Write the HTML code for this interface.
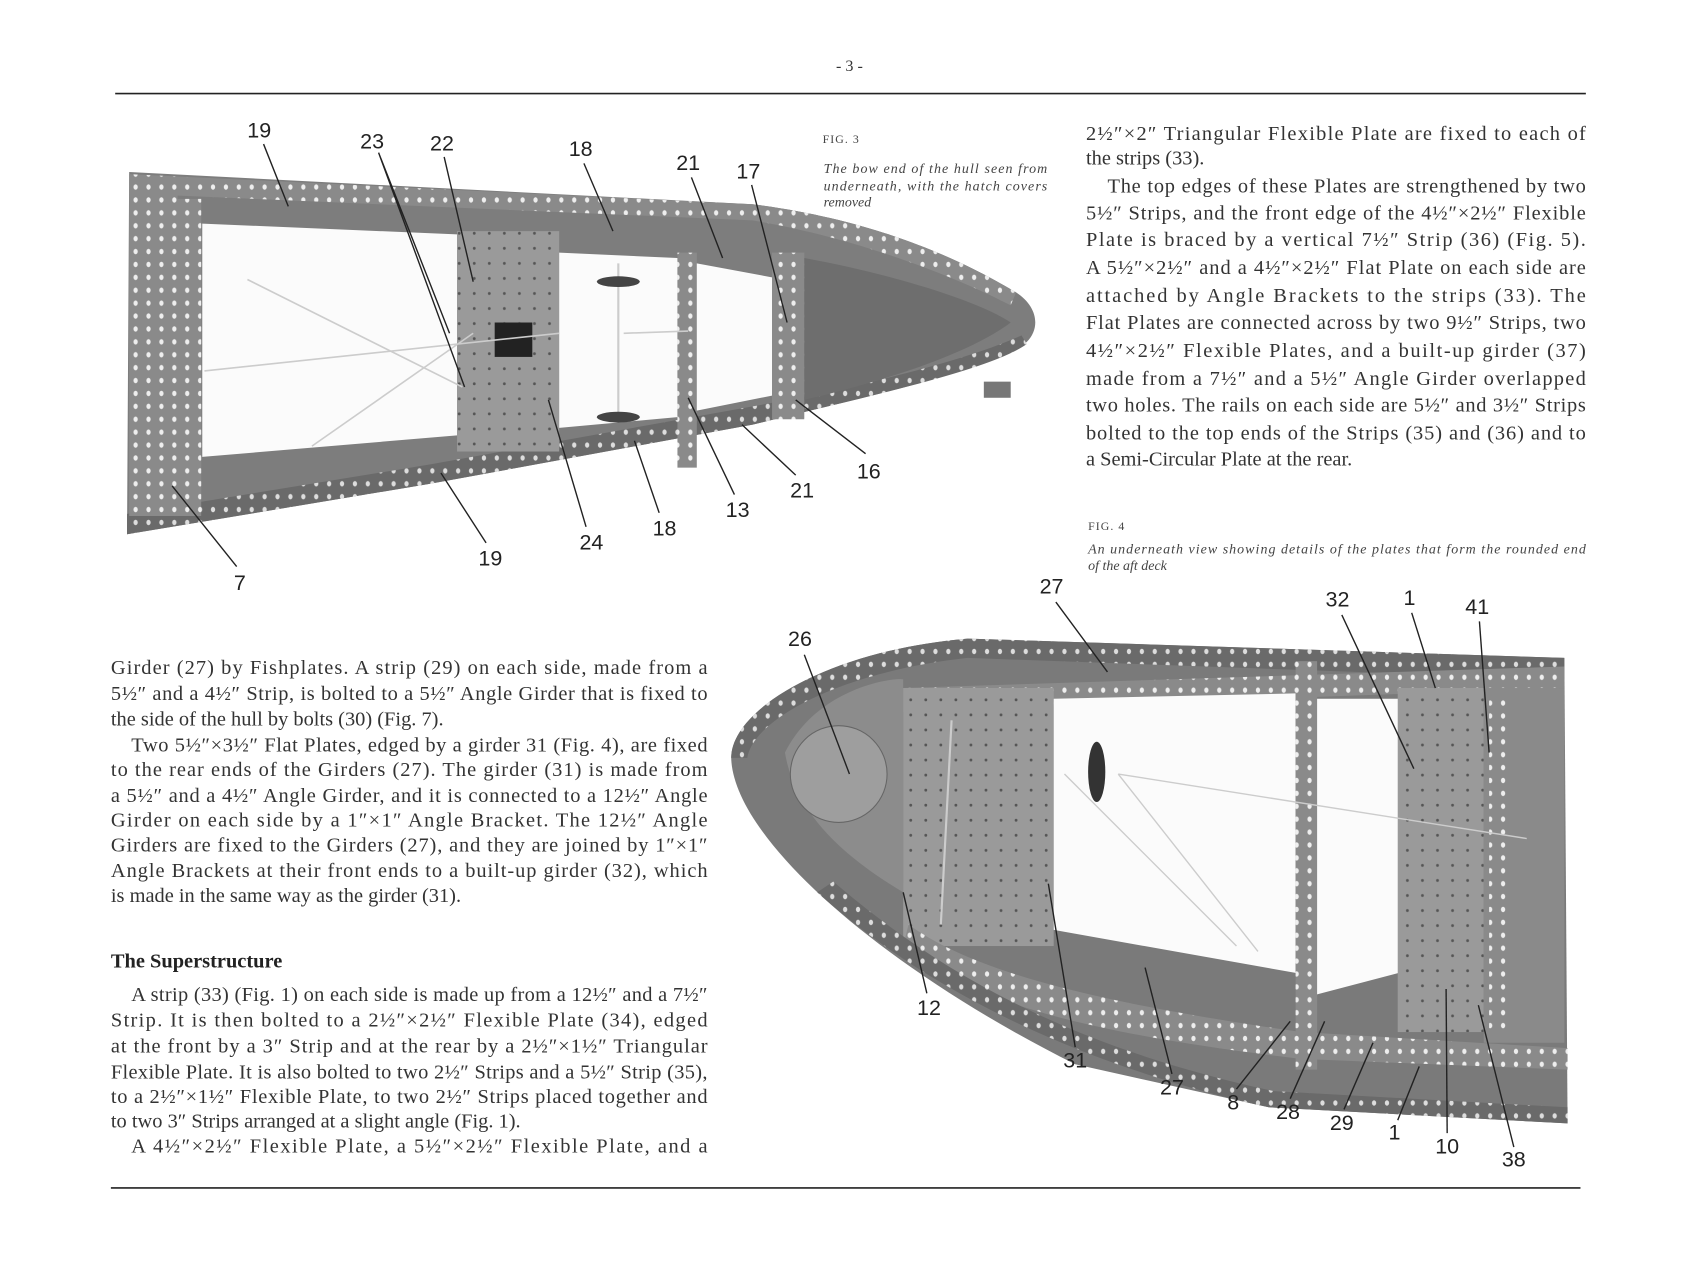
<!DOCTYPE html>
<html><head><meta charset="utf-8"><style>
html,body{margin:0;padding:0;background:#fff;}
svg{display:block}
.t{font-family:"Liberation Serif",serif;font-size:19px;fill:#333;}
.c{font-family:"Liberation Serif",serif;font-size:13px;font-style:italic;fill:#444;}
.f{font-family:"Liberation Serif",serif;font-size:11px;fill:#444;letter-spacing:1px}
.n{font-family:"Liberation Sans",sans-serif;font-size:20px;fill:#222;}
.l{stroke:#222;stroke-width:1.3;fill:none}
</style></head><body>
<svg width="1686" height="1275" viewBox="0 0 1568 1186" xmlns="http://www.w3.org/2000/svg">
<defs>
<pattern id="holes" width="12" height="12" patternUnits="userSpaceOnUse"><rect width="12" height="12" fill="#8a8a8a"/><ellipse cx="6" cy="6" rx="2" ry="2.5" fill="#eee"/></pattern>
<pattern id="holesD" width="12" height="12" patternUnits="userSpaceOnUse"><rect width="12" height="12" fill="#6a6a6a"/><ellipse cx="6" cy="6" rx="2" ry="2.5" fill="#ddd"/></pattern>
<pattern id="plate" width="14" height="14" patternUnits="userSpaceOnUse"><rect width="14" height="14" fill="#9a9a9a"/><circle cx="7" cy="7" r="1.3" fill="#555"/></pattern>
</defs>
<rect width="1568" height="1186" fill="#fff"/>
<text x="790" y="66" class="t" text-anchor="middle" style="font-size:15px">- 3 -</text>
<line x1="107" y1="87" x2="1475" y2="87" stroke="#222" stroke-width="1.5"/>
<line x1="103" y1="1105" x2="1470" y2="1105" stroke="#222" stroke-width="1.5"/>

<g>
<path d="M120,160 L700,190 C820,205 900,245 945,272 C965,285 968,305 955,318 C920,345 800,370 700,395 L400,450 L118,497 Z" fill="#7d7d7d"/>
<path d="M120,162 L700,190 C820,205 900,245 945,272 L940,284 C890,258 800,222 700,205 L120,180 Z" fill="url(#holes)"/>
<path d="M118,478 L400,432 L700,378 C800,360 900,335 950,312 L955,320 C920,345 800,370 700,395 L400,450 L118,497 Z" fill="url(#holesD)"/>
<rect x="120" y="180" width="45" height="300" fill="url(#holes)"/>
<rect x="162" y="185" width="25" height="295" fill="url(#holes)"/>
<path d="M188,208 L425,218 L425,405 L188,425 Z" fill="#fbfbfb"/>
<rect x="425" y="215" width="95" height="205" fill="url(#plate)"/>
<rect x="460" y="300" width="35" height="32" fill="#222"/>
<path d="M520,235 L630,240 L630,388 L520,398 Z" fill="#fbfbfb"/>
<rect x="630" y="235" width="18" height="200" fill="url(#holes)"/>
<path d="M648,245 L718,258 L718,368 L648,382 Z" fill="#fbfbfb"/>
<rect x="718" y="235" width="30" height="155" fill="url(#holes)"/>
<path d="M748,240 C830,255 910,280 940,300 C900,330 820,355 748,372 Z" fill="#6e6e6e"/>
<path d="M190,345 L520,310 M580,310 L640,308 M230,260 L430,360 M290,415 L440,310" stroke="#ccc" stroke-width="1.5"/>
<line x1="575" y1="245" x2="575" y2="390" stroke="#ccc" stroke-width="2"/>
<ellipse cx="575" cy="262" rx="20" ry="5" fill="#444"/><ellipse cx="575" cy="388" rx="20" ry="5" fill="#444"/>
<rect x="915" y="355" width="25" height="15" fill="#777"/>
</g>

<g class="n">
<text x="241" y="128" text-anchor="middle">19</text>
<text x="346" y="138" text-anchor="middle">23</text>
<text x="411" y="140" text-anchor="middle">22</text>
<text x="540" y="145" text-anchor="middle">18</text>
<text x="640" y="158" text-anchor="middle">21</text>
<text x="696" y="166" text-anchor="middle">17</text>
<text x="808" y="445" text-anchor="middle">16</text>
<text x="746" y="463" text-anchor="middle">21</text>
<text x="686" y="481" text-anchor="middle">13</text>
<text x="618" y="498" text-anchor="middle">18</text>
<text x="550" y="511" text-anchor="middle">24</text>
<text x="456" y="526" text-anchor="middle">19</text>
<text x="223" y="549" text-anchor="middle">7</text>
</g>
<g class="l">
<path d="M245,134 L268,192"/><path d="M352,142 L418,310 M352,142 L432,360"/><path d="M413,146 L440,262"/>
<path d="M543,152 L570,215"/><path d="M643,165 L672,240"/><path d="M699,172 L732,300"/>
<path d="M805,422 L740,372"/><path d="M740,442 L690,395"/><path d="M683,460 L640,370"/>
<path d="M613,477 L590,410"/><path d="M545,490 L510,372"/><path d="M452,505 L410,440"/><path d="M220,527 L160,452"/>
</g>

<text x="765" y="133" class="f">FIG. 3</text>
<text x="766" y="161" class="c" textLength="208">The bow end of the hull seen from</text>
<text x="766" y="177" class="c" textLength="208">underneath, with the hatch covers</text>
<text x="766" y="192" class="c">removed</text>

<g class="t">
<text x="1010" y="130" textLength="465">2½″×2″ Triangular Flexible Plate are fixed to each of</text>
<text x="1010" y="153">the strips (33).</text>
<text x="1030" y="179" textLength="445">The top edges of these Plates are strengthened by two</text>
<text x="1010" y="204" textLength="465">5½″ Strips, and the front edge of the 4½″×2½″ Flexible</text>
<text x="1010" y="229" textLength="465">Plate is braced by a vertical 7½″ Strip (36) (Fig. 5).</text>
<text x="1010" y="255" textLength="465">A 5½″×2½″ and a 4½″×2½″ Flat Plate on each side are</text>
<text x="1010" y="281" textLength="465">attached by Angle Brackets to the strips (33). The</text>
<text x="1010" y="306" textLength="465">Flat Plates are connected across by two 9½″ Strips, two</text>
<text x="1010" y="332" textLength="465">4½″×2½″ Flexible Plates, and a built-up girder (37)</text>
<text x="1010" y="358" textLength="465">made from a 7½″ and a 5½″ Angle Girder overlapped</text>
<text x="1010" y="383" textLength="465">two holes. The rails on each side are 5½″ and 3½″ Strips</text>
<text x="1010" y="409" textLength="465">bolted to the top ends of the Strips (35) and (36) and to</text>
<text x="1010" y="433">a Semi-Circular Plate at the rear.</text>
</g>

<text x="1012" y="493" class="f">FIG. 4</text>
<text x="1012" y="515" class="c" textLength="463">An underneath view showing details of the plates that form the rounded end</text>
<text x="1012" y="530" class="c">of the aft deck</text>

<g>
<path d="M1455,612 L900,594 C770,605 680,660 680,705 C682,780 820,900 1000,990 L1180,1030 L1458,1045 Z" fill="#7a7a7a"/>
<path d="M1455,612 L900,594 C770,605 680,660 680,705 L695,705 C700,670 780,625 900,612 L1455,632 Z" fill="url(#holesD)"/>
<path d="M840,640 L1455,620 L1455,640 L840,662 Z" fill="url(#holes)"/>
<path d="M730,700 C760,640 830,630 840,632 L840,830 C790,800 740,760 730,700 Z" fill="#8c8c8c"/>
<circle cx="780" cy="720" r="45" fill="#9e9e9e" stroke="#666"/>
<rect x="840" y="640" width="140" height="240" fill="url(#plate)"/>
<path d="M980,650 L1205,645 L1205,905 L980,865 Z" fill="#fbfbfb"/>
<rect x="1205" y="615" width="20" height="380" fill="url(#holes)"/>
<path d="M1225,650 L1320,650 L1320,900 L1225,925 Z" fill="#fbfbfb"/>
<rect x="1300" y="640" width="80" height="320" fill="url(#plate)"/>
<rect x="1380" y="640" width="75" height="330" fill="#8a8a8a"/>
<rect x="1385" y="650" width="20" height="310" fill="url(#holes)"/>
<path d="M845,860 C900,900 1000,930 1210,960 L1458,975 L1458,995 L1210,985 C1000,960 900,930 840,880 Z" fill="url(#holes)"/>
<path d="M760,830 C860,920 1000,990 1180,1030 L1458,1045 L1458,1030 L1185,1015 C1000,975 880,910 775,820 Z" fill="url(#holesD)"/>
<line x1="885" y1="670" x2="875" y2="860" stroke="#ccc" stroke-width="2"/>
<path d="M1040,720 L1170,885 M1040,720 L1420,780 M990,720 L1150,880" stroke="#ccc" stroke-width="1.3"/>
<ellipse cx="1020" cy="718" rx="8" ry="28" fill="#333"/>
</g>

<g class="n">
<text x="978" y="552" text-anchor="middle">27</text>
<text x="744" y="601" text-anchor="middle">26</text>
<text x="1244" y="564" text-anchor="middle">32</text>
<text x="1311" y="563" text-anchor="middle">1</text>
<text x="1374" y="571" text-anchor="middle">41</text>
<text x="864" y="944" text-anchor="middle">12</text>
<text x="1000" y="993" text-anchor="middle">31</text>
<text x="1090" y="1018" text-anchor="middle">27</text>
<text x="1147" y="1032" text-anchor="middle">8</text>
<text x="1198" y="1041" text-anchor="middle">28</text>
<text x="1248" y="1051" text-anchor="middle">29</text>
<text x="1297" y="1060" text-anchor="middle">1</text>
<text x="1346" y="1073" text-anchor="middle">10</text>
<text x="1408" y="1085" text-anchor="middle">38</text>
</g>
<g class="l">
<path d="M982,560 L1030,625"/><path d="M748,609 L790,720"/><path d="M1248,572 L1315,715"/>
<path d="M1313,570 L1335,640"/><path d="M1376,578 L1385,700"/><path d="M862,924 L840,830"/>
<path d="M1000,974 L975,822"/><path d="M1090,999 L1065,900"/><path d="M1150,1013 L1200,950"/>
<path d="M1200,1022 L1232,950"/><path d="M1250,1032 L1277,970"/><path d="M1300,1042 L1320,992"/>
<path d="M1346,1054 L1345,920"/><path d="M1408,1067 L1375,935"/>
</g>

<g class="t">
<text x="103" y="627" textLength="555">Girder (27) by Fishplates. A strip (29) on each side, made from a</text>
<text x="103" y="651" textLength="555">5½″ and a 4½″ Strip, is bolted to a 5½″ Angle Girder that is fixed to</text>
<text x="103" y="675">the side of the hull by bolts (30) (Fig. 7).</text>
<text x="122" y="699" textLength="536">Two 5½″×3½″ Flat Plates, edged by a girder 31 (Fig. 4), are fixed</text>
<text x="103" y="722" textLength="555">to the rear ends of the Girders (27). The girder (31) is made from</text>
<text x="103" y="746" textLength="555">a 5½″ and a 4½″ Angle Girder, and it is connected to a 12½″ Angle</text>
<text x="103" y="769" textLength="555">Girder on each side by a 1″×1″ Angle Bracket. The 12½″ Angle</text>
<text x="103" y="792" textLength="555">Girders are fixed to the Girders (27), and they are joined by 1″×1″</text>
<text x="103" y="816" textLength="555">Angle Brackets at their front ends to a built-up girder (32), which</text>
<text x="103" y="839">is made in the same way as the girder (31).</text>
<text x="103" y="900" style="font-weight:bold;fill:#222;font-size:19px">The Superstructure</text>
<text x="122" y="931" textLength="536">A strip (33) (Fig. 1) on each side is made up from a 12½″ and a 7½″</text>
<text x="103" y="955" textLength="555">Strip. It is then bolted to a 2½″×2½″ Flexible Plate (34), edged</text>
<text x="103" y="979" textLength="555">at the front by a 3″ Strip and at the rear by a 2½″×1½″ Triangular</text>
<text x="103" y="1003" textLength="555">Flexible Plate. It is also bolted to two 2½″ Strips and a 5½″ Strip (35),</text>
<text x="103" y="1026" textLength="555">to a 2½″×1½″ Flexible Plate, to two 2½″ Strips placed together and</text>
<text x="103" y="1049">to two 3″ Strips arranged at a slight angle (Fig. 1).</text>
<text x="122" y="1072" textLength="536">A 4½″×2½″ Flexible Plate, a 5½″×2½″ Flexible Plate, and a</text>
</g>
</svg>
</body></html>
